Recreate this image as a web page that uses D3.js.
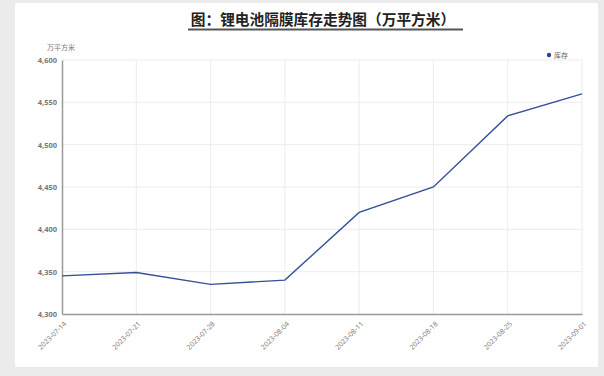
<!DOCTYPE html>
<html><head><meta charset="utf-8">
<script src="https://cdn.jsdelivr.net/npm/d3@7/dist/d3.min.js"></script>
<style>html,body{margin:0;padding:0;background:#ebebeb;}</style>
</head><body>
<svg id="c" width="604" height="376"></svg>
<script>
const dates = ["2023-07-14","2023-07-21","2023-07-28","2023-08-04","2023-08-11","2023-08-18","2023-08-25","2023-09-01"];
const inventory = [4345, 4349, 4335, 4340, 4420, 4450, 4534, 4560];
const yTicks = [4300, 4350, 4400, 4450, 4500, 4550, 4600];
const title = "图：锂电池隔膜库存走势图（万平方米）";
const unit = "万平方米";
const seriesName = "库存";

const svg = d3.select("#c");
svg.append("rect").attr("x",0).attr("y",0).attr("width",604).attr("height",376).attr("fill","#ebebeb");
svg.append("rect").attr("x",15).attr("y",3).attr("width",583).attr("height",364).attr("fill","#ffffff");

const m = {l:62, r:582, t:60, b:314};
const x = d3.scalePoint().domain(dates).range([m.l, m.r]);
const y = d3.scaleLinear().domain([4300, 4600]).range([m.b, m.t]);

// title
svg.append("text").attr("x",323).attr("y",25).attr("text-anchor","middle")
  .attr("font-family","'Noto Sans CJK SC'").attr("font-weight","bold").attr("font-size",14.7)
  .attr("fill","#222").text(title);
svg.append("line").attr("x1",188).attr("x2",463).attr("y1",29.5).attr("y2",29.5)
  .attr("stroke","#555").attr("stroke-width",2);

// grid
svg.append("g").selectAll("line").data(yTicks.slice(1)).join("line")
  .attr("x1",m.l).attr("x2",m.r).attr("y1",d=>y(d)).attr("y2",d=>y(d))
  .attr("stroke","#ececec").attr("stroke-width",1);
svg.append("g").selectAll("line").data(dates.slice(1)).join("line")
  .attr("x1",d=>x(d)).attr("x2",d=>x(d)).attr("y1",m.t).attr("y2",m.b)
  .attr("stroke","#ececec").attr("stroke-width",1);

// y axis
const ya = svg.append("g").attr("transform",`translate(${m.l},0)`)
  .call(d3.axisLeft(y).tickValues(yTicks).tickSize(0).tickPadding(5).tickFormat(d3.format(",")));
ya.select(".domain").attr("stroke","#999").attr("stroke-width",1.5);
ya.selectAll("text").attr("font-family","'Open Sans'").attr("font-size",7.5).attr("font-weight","bold").attr("fill","#777");

// x axis
const xa = svg.append("g").attr("transform",`translate(0,${m.b})`)
  .call(d3.axisBottom(x).tickSize(0).tickPadding(4));
xa.select(".domain").attr("stroke","#999").attr("stroke-width",1.5);
xa.selectAll("text").attr("font-family","'Open Sans'").attr("font-size",7).attr("fill","#777")
  .attr("text-anchor","end").attr("dy","0.3em")
  .attr("transform","translate(0,6) rotate(-45)");

// unit label
svg.append("text").attr("x",61).attr("y",50).attr("text-anchor","middle")
  .attr("font-family","'Noto Sans CJK SC'").attr("font-size",7).attr("fill","#777").text(unit);

// line
svg.append("path").datum(inventory)
  .attr("fill","none").attr("stroke","#34509a").attr("stroke-width",1.4)
  .attr("d", d3.line().x((d,i)=>x(dates[i])).y(d=>y(d)));

// legend
svg.append("circle").attr("cx",549).attr("cy",55).attr("r",2.2).attr("fill","#2a4690");
svg.append("text").attr("x",554).attr("y",57.5).attr("font-family","'Noto Sans CJK SC'")
  .attr("font-size",7).attr("fill","#666").text(seriesName);
</script>
</body></html>
